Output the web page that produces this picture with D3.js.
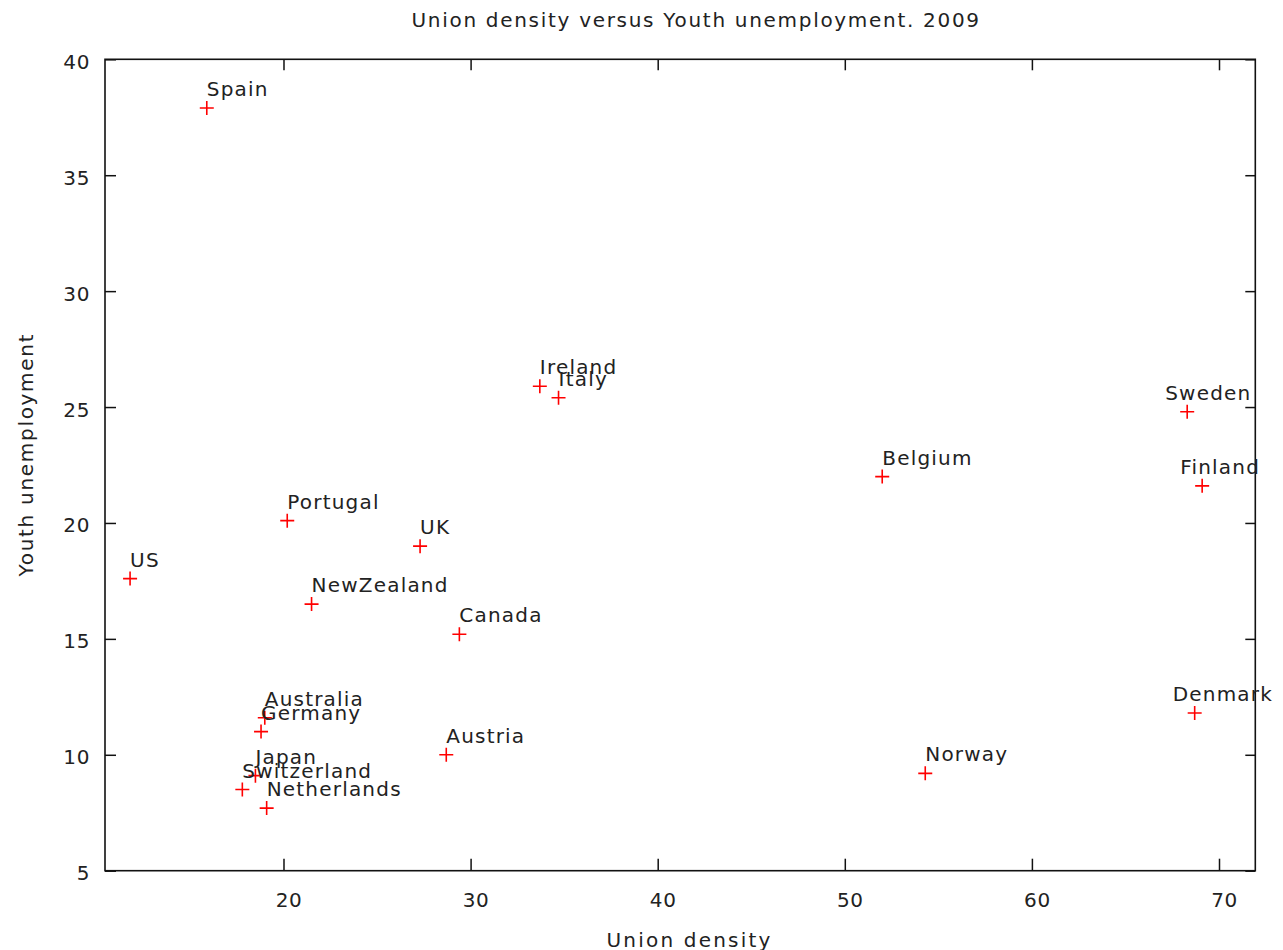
<!DOCTYPE html>
<html>
<head>
<meta charset="utf-8">
<script src="https://cdn.jsdelivr.net/npm/d3@7"></script>
<style>
  html, body { margin: 0; padding: 0; background: #fff; }
  svg { display: block; font-family: "DejaVu Sans", sans-serif; }
</style>
</head>
<body>
<svg id="chart" width="1283" height="950"></svg>
<script>
const countries = ["Spain","US","Portugal","UK","NewZealand","Canada","Austria","Australia","Germany","Japan","Switzerland","Netherlands","Ireland","Italy","Belgium","Norway","Sweden","Finland","Denmark"];
const unionDensity = [15.9, 11.8, 20.2, 27.3, 21.5, 29.4, 28.7, 19.0, 18.8, 18.5, 17.8, 19.1, 33.7, 34.7, 52.0, 54.3, 68.3, 69.1, 68.7];
const youthUnemployment = [37.9, 17.6, 20.1, 19.0, 16.5, 15.2, 10.0, 11.6, 11.0, 9.1, 8.5, 7.7, 25.9, 25.4, 22.0, 9.2, 24.8, 21.6, 11.8];
const xTicks = [20, 30, 40, 50, 60, 70];
const yTicks = [5, 10, 15, 20, 25, 30, 35, 40];
const titleText = "Union density versus Youth unemployment. 2009";
const xLabelText = "Union density";
const yLabelText = "Youth unemployment";

const data = countries.map((c, i) => ({ name: c, x: unionDensity[i], y: youthUnemployment[i] }));

const L = 105, R = 1255.3, T = 59.3, B = 870.7;
const svg = d3.select("#chart");
const x = d3.scaleLinear().domain([10.46, 71.94]).range([L, R]);
const y = d3.scaleLinear().domain([5, 40]).range([B, T]);
const textColor = "#222";

function styleAxis(g, showText) {
  g.select(".domain").remove();
  g.selectAll(".tick line").attr("stroke", "#111").attr("stroke-width", 1.5);
  g.selectAll(".tick text")
    .attr("fill", textColor)
    .style("font-size", "20px")
    .style("font-family", "'DejaVu Sans', sans-serif")
    .style("letter-spacing", "0.6px");
  if (!showText) g.selectAll(".tick text").remove();
}

// bottom axis
const gx = svg.append("g").attr("transform", `translate(0,${B})`)
  .call(d3.axisBottom(x).tickValues(xTicks).tickSize(-12).tickPadding(21.8));
styleAxis(gx, true);
gx.selectAll(".tick text").attr("dx", 5);

// top mirror ticks
const gxt = svg.append("g").attr("transform", `translate(0,${T})`)
  .call(d3.axisTop(x).tickValues(xTicks).tickSize(-11));
styleAxis(gxt, false);

// left axis
const gy = svg.append("g").attr("transform", `translate(${L},0)`)
  .call(d3.axisLeft(y).tickValues(yTicks).tickSize(-11).tickPadding(15));
styleAxis(gy, true);
gy.selectAll(".tick text").attr("dy", "0.45em");

// right mirror ticks
const gyr = svg.append("g").attr("transform", `translate(${R},0)`)
  .call(d3.axisRight(y).tickValues(yTicks).tickSize(-10));
styleAxis(gyr, false);

// border
svg.append("rect")
  .attr("x", L).attr("y", T)
  .attr("width", R - L).attr("height", B - T)
  .attr("fill", "none").attr("stroke", "#111").attr("stroke-width", 1.6);

// points
svg.append("g").selectAll("path.pt").data(data).join("path")
  .attr("class", "pt")
  .attr("transform", d => `translate(${x(d.x)},${y(d.y)})`)
  .attr("d", "M-7,0H7M0,-7V7")
  .attr("stroke", "#ff0000").attr("stroke-width", 1.6).attr("fill", "none");

// labels
const labels = svg.append("g").selectAll("text.lbl").data(data).join("text")
  .attr("class", "lbl")
  .attr("x", d => x(d.x))
  .attr("y", d => y(d.y) - 12)
  .attr("fill", textColor)
  .style("font-size", "20px")
  .style("letter-spacing", "1.2px")
  .text(d => d.name);
// labels that would run past the plot's right border are nudged left
labels.each(function(d) {
  const w = this.getComputedTextLength();
  if (x(d.x) + w > R) d3.select(this).attr("x", x(d.x) - 22);
});

// title
svg.append("text")
  .attr("x", 411.5).attr("y", 27)
  .attr("fill", textColor)
  .style("font-size", "20px")
  .style("letter-spacing", "1.7px")
  .text(titleText);

// x label
svg.append("text")
  .attr("x", 606.5).attr("y", 946.5)
  .attr("fill", textColor)
  .style("font-size", "20px")
  .style("letter-spacing", "2.2px")
  .text(xLabelText);

// y label
svg.append("text")
  .attr("transform", "translate(32.5,576.5) rotate(-90)")
  .attr("fill", textColor)
  .style("font-size", "20px")
  .style("letter-spacing", "1.7px")
  .text(yLabelText);
</script>
</body>
</html>
